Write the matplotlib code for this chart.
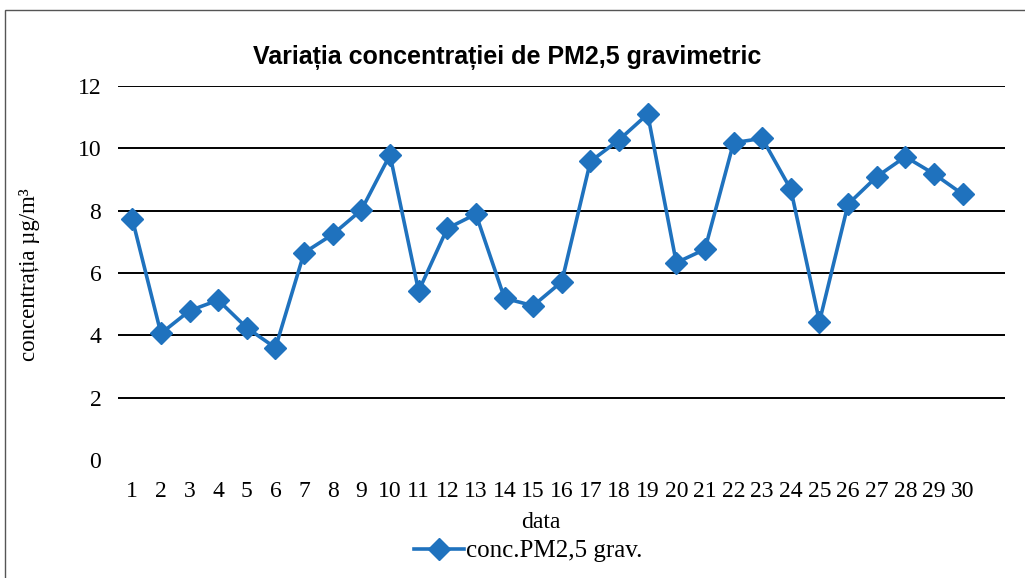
import matplotlib
matplotlib.use("Agg")
import matplotlib.pyplot as plt
from matplotlib.patches import Rectangle
from matplotlib.lines import Line2D

days = list(range(1, 31))
pm25 = [7.73, 4.06, 4.79, 5.13, 4.24, 3.60, 6.65, 7.24, 8.02, 9.79,
        5.42, 7.43, 7.89, 5.19, 4.95, 5.72, 9.58, 10.27, 11.10, 6.33,
        6.76, 10.18, 10.32, 8.68, 4.44, 8.21, 9.09, 9.73, 9.18, 8.53]
yticks = [0, 2, 4, 6, 8, 10, 12]
title = "Variația concentrației de PM2,5 gravimetric"
xlabel = "data"
ylabel = "concentrația µg/m³"
series_label = "conc.PM2,5 grav."

W, H = 1025, 578
fig = plt.figure(figsize=(W / 100, H / 100), dpi=100)
fig.patch.set_facecolor("white")

# outer border (partially visible frame)
fig.patches.append(Rectangle((5 / W, -0.1), 1.2, 1 - 10 / H + 0.1,
                             transform=fig.transFigure, fill=False,
                             edgecolor="#555555", linewidth=1.0))

ax = fig.add_axes([118 / W, (H - 460) / H, 887 / W, 374 / H])
color = "#1f72be"
ax.plot(days, pm25, color=color, linewidth=2.6, marker="D",
        markersize=11, markerfacecolor=color, markeredgecolor=color,
        label=series_label, zorder=3)

for v in yticks[1:]:
    ax.axhline(v, color="black", linewidth=1.4, zorder=1)

ax.set_ylim(0, 12)
ax.set_xlim(0.5, 31.48)
ax.set_xticks(days)
ax.set_xticklabels([str(d) for d in days], family="Liberation Serif", fontsize=17)
ax.set_yticks(yticks)
ax.set_yticklabels([str(v) for v in yticks], family="Liberation Serif", fontsize=17)
ax.tick_params(axis="both", length=0)
ax.tick_params(axis="y", pad=12)
ax.tick_params(axis="x", pad=15)
for s in ax.spines.values():
    s.set_visible(False)

fig.text(507 / W, 1 - 57 / H, title, ha="center", va="center",
         family="Liberation Sans", fontweight="bold", fontsize=18)
fig.text(541 / W, 1 - 522 / H, xlabel, ha="center", va="center",
         family="Liberation Serif", fontsize=17)
fig.text(30 / W, 1 - 275 / H, ylabel, ha="center", va="center",
         rotation=90, family="Liberation Serif", fontsize=16.5)

handle = Line2D([], [], color=color, linewidth=2.6, marker="D",
                markersize=11, markerfacecolor=color, markeredgecolor=color)
fig.legend([handle], [series_label], loc="center",
           bbox_to_anchor=(528 / W, 1 - 551 / H), frameon=False,
           prop={"family": "Liberation Serif", "size": 18},
           handlelength=2.0, handletextpad=0.1)

fig.savefig("out.png", dpi=100)
